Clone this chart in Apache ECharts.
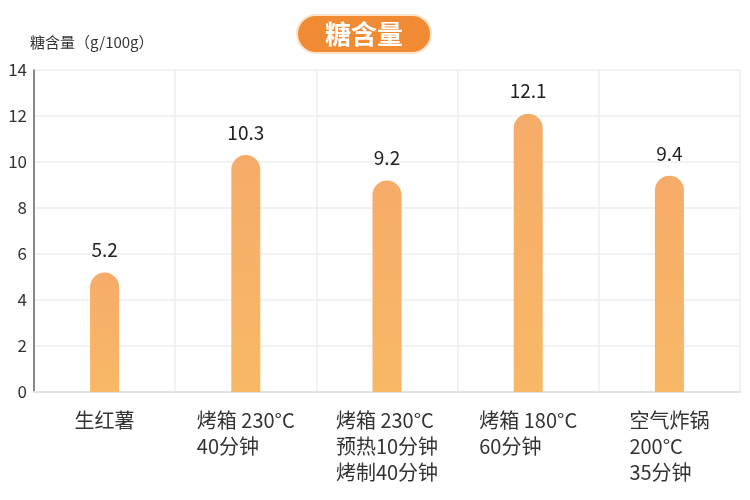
<!DOCTYPE html>
<html>
<head>
<meta charset="utf-8">
<script src="https://cdn.jsdelivr.net/npm/echarts@6/dist/echarts.min.js"></script>
<style>
  html, body { margin: 0; padding: 0; background: #fff; }
  #main { width: 750px; height: 500px; }
</style>
</head>
<body>
<div id="main"></div>
<script>
// 数据
var categories = [
  ['生红薯'],
  ['烤箱 230°C', '40分钟'],
  ['烤箱 230°C', '预热10分钟', '烤制40分钟'],
  ['烤箱 180°C', '60分钟'],
  ['空气炸锅', '200°C', '35分钟']
];
var sugarValues = [5.2, 10.3, 9.2, 12.1, 9.4];
var yTicks = [0, 2, 4, 6, 8, 10, 12, 14];

var FONT = '"Noto Sans CJK SC", "Noto Sans", sans-serif';

var myChart = echarts.init(document.getElementById('main'));

var option = {
  backgroundColor: '#ffffff',
  animation: false,
  title: {
    text: '糖含量',
    left: 297,
    top: 15,
    padding: [3, 28, 3, 28],
    backgroundColor: '#F18B33',
    borderRadius: 19,
    borderColor: '#FCE3CC',
    borderWidth: 2,
    textStyle: {
      color: '#ffffff',
      fontSize: 26,
      fontWeight: 'bold',
      fontFamily: FONT,
      lineHeight: 32
    }
  },
  grid: { left: 34, right: 10, top: 70, bottom: 108 },
  xAxis: {
    type: 'category',
    data: categories.map(function (c) { return c.join('\n'); }),
    boundaryGap: true,
    axisLine: { lineStyle: { color: '#e2e2e2', width: 2 } },
    axisTick: { show: false },
    splitLine: { show: true, interval: 0, lineStyle: { color: '#eeeeee', width: 1.5 } },
    axisLabel: {
      interval: 0,
      margin: 15,
      color: '#333',
      fontSize: 20,
      fontFamily: FONT,
      lineHeight: 26,
      formatter: function (v) {
        return v.split('\n').map(function (l) { return '{a|' + l + '}'; }).join('\n');
      },
      rich: {
        a: { align: 'left', fontSize: 20, lineHeight: 26, color: '#333', fontFamily: FONT }
      }
    }
  },
  yAxis: {
    type: 'value',
    name: '糖含量（g/100g）',
    nameLocation: 'end',
    nameGap: 20,
    nameTextStyle: { color: '#333', fontSize: 15, fontFamily: FONT, align: 'left', padding: [0, 0, 0, -4] },
    min: 0,
    max: 14,
    interval: 2,
    axisLine: { show: true, lineStyle: { color: '#666', width: 1.5 } },
    axisTick: { show: false },
    axisLabel: { color: '#333', fontSize: 17, fontFamily: FONT, margin: 7 },
    splitLine: { lineStyle: { color: '#eeeeee', width: 1.5 } }
  },
  series: [{
    type: 'bar',
    data: sugarValues,
    barWidth: 29,
    itemStyle: {
      borderRadius: [15, 15, 0, 0],
      color: new echarts.graphic.LinearGradient(0, 0, 0, 1, [
        { offset: 0, color: '#F6AC69' },
        { offset: 1, color: '#F8B866' }
      ])
    },
    label: {
      show: true,
      position: 'top',
      distance: 13,
      color: '#222',
      fontSize: 19,
      fontFamily: FONT
    }
  }]
};

myChart.setOption(option);
</script>
</body>
</html>
